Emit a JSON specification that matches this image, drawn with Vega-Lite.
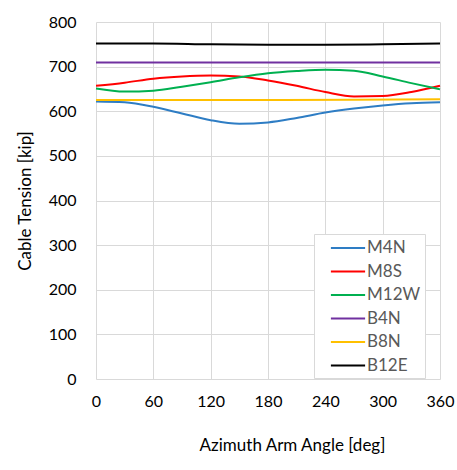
{
  "$schema": "https://vega.github.io/schema/vega-lite/v6.json",
  "width": 344,
  "height": 357,
  "autosize": {"type": "none"},
  "padding": {"left": 96, "top": 22, "right": 17, "bottom": 91},
  "background": "white",
  "config": {
    "font": "Lato",
    "view": {"stroke": null},
    "axis": {"gridColor": "#d9d9d9", "gridWidth": 1, "domain": false, "ticks": false, "labelColor": "#000000", "labelFontSize": 16, "titleFontSize": 17, "titleFontWeight": "normal", "titleColor": "#000000", "labelFont": "Lato", "titleFont": "Lato"}
  },
  "data": {
    "values": [
      {"angle": 0, "series": "M4N", "tension": 622},
      {"angle": 30, "series": "M4N", "tension": 620},
      {"angle": 60, "series": "M4N", "tension": 610},
      {"angle": 90, "series": "M4N", "tension": 595},
      {"angle": 120, "series": "M4N", "tension": 580},
      {"angle": 150, "series": "M4N", "tension": 572},
      {"angle": 180, "series": "M4N", "tension": 575},
      {"angle": 210, "series": "M4N", "tension": 585},
      {"angle": 240, "series": "M4N", "tension": 597},
      {"angle": 270, "series": "M4N", "tension": 606},
      {"angle": 300, "series": "M4N", "tension": 613},
      {"angle": 330, "series": "M4N", "tension": 618},
      {"angle": 360, "series": "M4N", "tension": 620},
      {"angle": 0, "series": "M8S", "tension": 657},
      {"angle": 30, "series": "M8S", "tension": 664},
      {"angle": 60, "series": "M8S", "tension": 673},
      {"angle": 90, "series": "M8S", "tension": 678},
      {"angle": 120, "series": "M8S", "tension": 680},
      {"angle": 150, "series": "M8S", "tension": 678},
      {"angle": 180, "series": "M8S", "tension": 669},
      {"angle": 210, "series": "M8S", "tension": 657},
      {"angle": 240, "series": "M8S", "tension": 643},
      {"angle": 270, "series": "M8S", "tension": 633},
      {"angle": 300, "series": "M8S", "tension": 634},
      {"angle": 330, "series": "M8S", "tension": 643},
      {"angle": 360, "series": "M8S", "tension": 657},
      {"angle": 0, "series": "M12W", "tension": 651},
      {"angle": 30, "series": "M12W", "tension": 644},
      {"angle": 60, "series": "M12W", "tension": 646},
      {"angle": 90, "series": "M12W", "tension": 655},
      {"angle": 120, "series": "M12W", "tension": 665},
      {"angle": 150, "series": "M12W", "tension": 676},
      {"angle": 180, "series": "M12W", "tension": 685},
      {"angle": 210, "series": "M12W", "tension": 690},
      {"angle": 240, "series": "M12W", "tension": 693},
      {"angle": 270, "series": "M12W", "tension": 691},
      {"angle": 300, "series": "M12W", "tension": 678},
      {"angle": 330, "series": "M12W", "tension": 663},
      {"angle": 360, "series": "M12W", "tension": 649},
      {"angle": 0, "series": "B4N", "tension": 709},
      {"angle": 90, "series": "B4N", "tension": 709},
      {"angle": 180, "series": "B4N", "tension": 709},
      {"angle": 270, "series": "B4N", "tension": 709},
      {"angle": 360, "series": "B4N", "tension": 709},
      {"angle": 0, "series": "B8N", "tension": 625},
      {"angle": 90, "series": "B8N", "tension": 625},
      {"angle": 180, "series": "B8N", "tension": 625},
      {"angle": 270, "series": "B8N", "tension": 626},
      {"angle": 360, "series": "B8N", "tension": 627},
      {"angle": 0, "series": "B12E", "tension": 752},
      {"angle": 60, "series": "B12E", "tension": 752},
      {"angle": 120, "series": "B12E", "tension": 750},
      {"angle": 180, "series": "B12E", "tension": 749},
      {"angle": 240, "series": "B12E", "tension": 749},
      {"angle": 300, "series": "B12E", "tension": 750},
      {"angle": 360, "series": "B12E", "tension": 752}
    ]
  },
  "mark": {"type": "line", "interpolate": "monotone", "strokeWidth": 2},
  "encoding": {
    "x": {
      "field": "angle", "type": "quantitative",
      "scale": {"domain": [0, 360], "nice": false},
      "axis": {"values": [0, 60, 120, 180, 240, 300, 360], "title": "Azimuth Arm Angle [deg]", "labelPadding": 14, "titlePadding": 28, "titleX": 196, "labelFlush": false}
    },
    "y": {
      "field": "tension", "type": "quantitative",
      "scale": {"domain": [0, 800], "nice": false},
      "axis": {"values": [0, 100, 200, 300, 400, 500, 600, 700, 800], "title": "Cable Tension [kip]", "labelPadding": 20, "titlePadding": 14}
    },
    "color": {
      "field": "series", "type": "nominal",
      "scale": {"domain": ["M4N", "M8S", "M12W", "B4N", "B8N", "B12E"], "range": ["#2E7DC4", "#FF0000", "#00B050", "#7030A0", "#FFC000", "#000000"]},
      "legend": {"title": null, "orient": "none", "legendX": 218, "legendY": 212, "strokeColor": "#d9d9d9", "padding": 4, "symbolType": "M-1.9,0H1.9", "symbolSize": 324, "symbolStrokeWidth": 2, "symbolOffset": 20, "labelFontSize": 17, "labelColor": "#595959", "rowPadding": 5.5, "labelOffset": 9, "fillColor": "white"}
    }
  }
}
